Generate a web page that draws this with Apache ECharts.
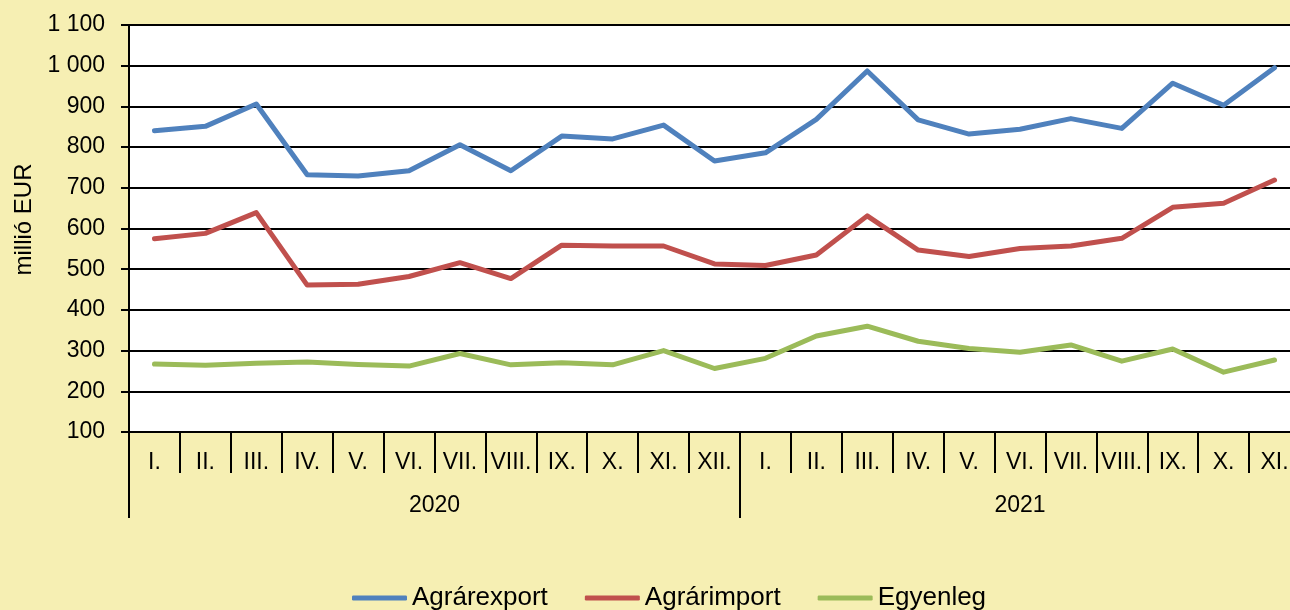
<!DOCTYPE html>
<html lang="hu">
<head>
    <meta charset="UTF-8">
    <title>Agrárexport, agrárimport, egyenleg</title>
    <script src="https://cdn.jsdelivr.net/npm/echarts@6/dist/echarts.min.js"></script>
    <style>
        html, body {margin: 0; padding: 0; background: #F6EFB3;}
        #main {width: 1290px; height: 610px;}
    </style>
</head>
<body>
<div id="main"></div>
<script>
    // hónapok és évek
    var months = ['I.', 'II.', 'III.', 'IV.', 'V.', 'VI.', 'VII.', 'VIII.', 'IX.', 'X.', 'XI.', 'XII.',
                  'I.', 'II.', 'III.', 'IV.', 'V.', 'VI.', 'VII.', 'VIII.', 'IX.', 'X.', 'XI.'];
    var years = ['2020', '2021'];
    var monthsPerYear = [12, 11];

    // millió EUR
    var agrarexport = [840, 851, 906, 732, 729, 742, 806, 742, 827, 820, 854, 766,
                       786, 868, 987, 867, 832, 844, 870, 846, 957, 903, 995];
    var agrarimport = [575, 588, 639, 461, 463, 482, 516, 477, 559, 557, 557, 513,
                       509, 535, 631, 547, 531, 551, 557, 576, 652, 662, 719];
    var egyenleg = [267, 264, 269, 272, 266, 262, 293, 265, 270, 265, 300, 256,
                    281, 336, 360, 323, 305, 296, 314, 274, 304, 247, 277];

    var font = 'Liberation Sans, Arial, sans-serif';

    // év tengely: fél hónapos lépések, a címke az év közepére, a vonal az év határára kerül
    var yearAxisData = [];
    var yearTicks = [0];
    var pos = 0;
    for (var i = 0; i < months.length * 2 + 1; i++) yearAxisData.push('');
    for (var y = 0; y < years.length; y++) {
        yearAxisData[pos + monthsPerYear[y]] = years[y];
        pos += monthsPerYear[y] * 2;
        yearTicks.push(pos);
    }

    var chart = echarts.init(document.getElementById('main'));

    var option = {
        backgroundColor: '#F6EFB3',
        animation: false,
        color: ['#4F81BD', '#C0504D', '#9BBB59'],
        textStyle: {fontFamily: font, color: '#000'},
        grid: {
            left: 129,
            top: 25,
            width: 1171,   // a jobb szél kilóg a képből, mint az eredetin
            bottom: 178,
            outerBoundsMode: 'none',
            containLabel: false,
            show: true,
            backgroundColor: '#fff',
            borderWidth: 0
        },
        legend: {
            left: 347,
            top: 580,
            itemWidth: 55,
            itemHeight: 5,
            itemGap: 37,
            icon: 'roundRect',
            textStyle: {fontSize: 26, color: '#000', fontFamily: font},
            data: ['Agrárexport', 'Agrárimport', 'Egyenleg']
        },
        xAxis: [{
            type: 'category',
            position: 'bottom',
            data: months,
            boundaryGap: true,
            axisLine: {lineStyle: {color: '#000', width: 2}},
            axisTick: {show: true, interval: 0, length: 41, lineStyle: {color: '#000', width: 2}},
            axisLabel: {interval: 0, margin: 19, fontSize: 23, color: '#000'}
        }, {
            type: 'category',
            position: 'bottom',
            data: yearAxisData,
            boundaryGap: false,
            axisLine: {show: false},
            axisTick: {
                show: true,
                length: 86,
                interval: function (index) { return yearTicks.indexOf(index) >= 0; },
                lineStyle: {color: '#000', width: 2}
            },
            axisLabel: {
                interval: function (index, value) { return value !== ''; },
                margin: 62,
                fontSize: 23,
                color: '#000'
            }
        }],
        yAxis: {
            type: 'value',
            min: 100,
            max: 1100,
            interval: 100,
            name: 'millió EUR',
            nameLocation: 'middle',
            nameRotate: 90,
            nameGap: 92,
            nameTextStyle: {fontSize: 24, color: '#000', fontFamily: font, padding: [0, 0, 0, 18]},
            axisLine: {show: true, lineStyle: {color: '#000', width: 2}},
            axisTick: {show: true, length: 8, lineStyle: {color: '#000', width: 2}},
            splitLine: {lineStyle: {color: '#000', width: 2}},
            axisLabel: {
                margin: 24,
                fontSize: 23,
                color: '#000',
                formatter: function (v) {
                    return String(v).replace(/\B(?=(\d{3})+(?!\d))/g, ' ');
                }
            }
        },
        series: [{
            name: 'Agrárexport',
            type: 'line',
            data: agrarexport,
            symbol: 'none',
            lineStyle: {width: 5, cap: 'round', join: 'round'}
        }, {
            name: 'Agrárimport',
            type: 'line',
            data: agrarimport,
            symbol: 'none',
            lineStyle: {width: 5, cap: 'round', join: 'round'}
        }, {
            name: 'Egyenleg',
            type: 'line',
            data: egyenleg,
            symbol: 'none',
            lineStyle: {width: 5, cap: 'round', join: 'round'}
        }]
    };
    chart.setOption(option);
</script>
</body>
</html>
